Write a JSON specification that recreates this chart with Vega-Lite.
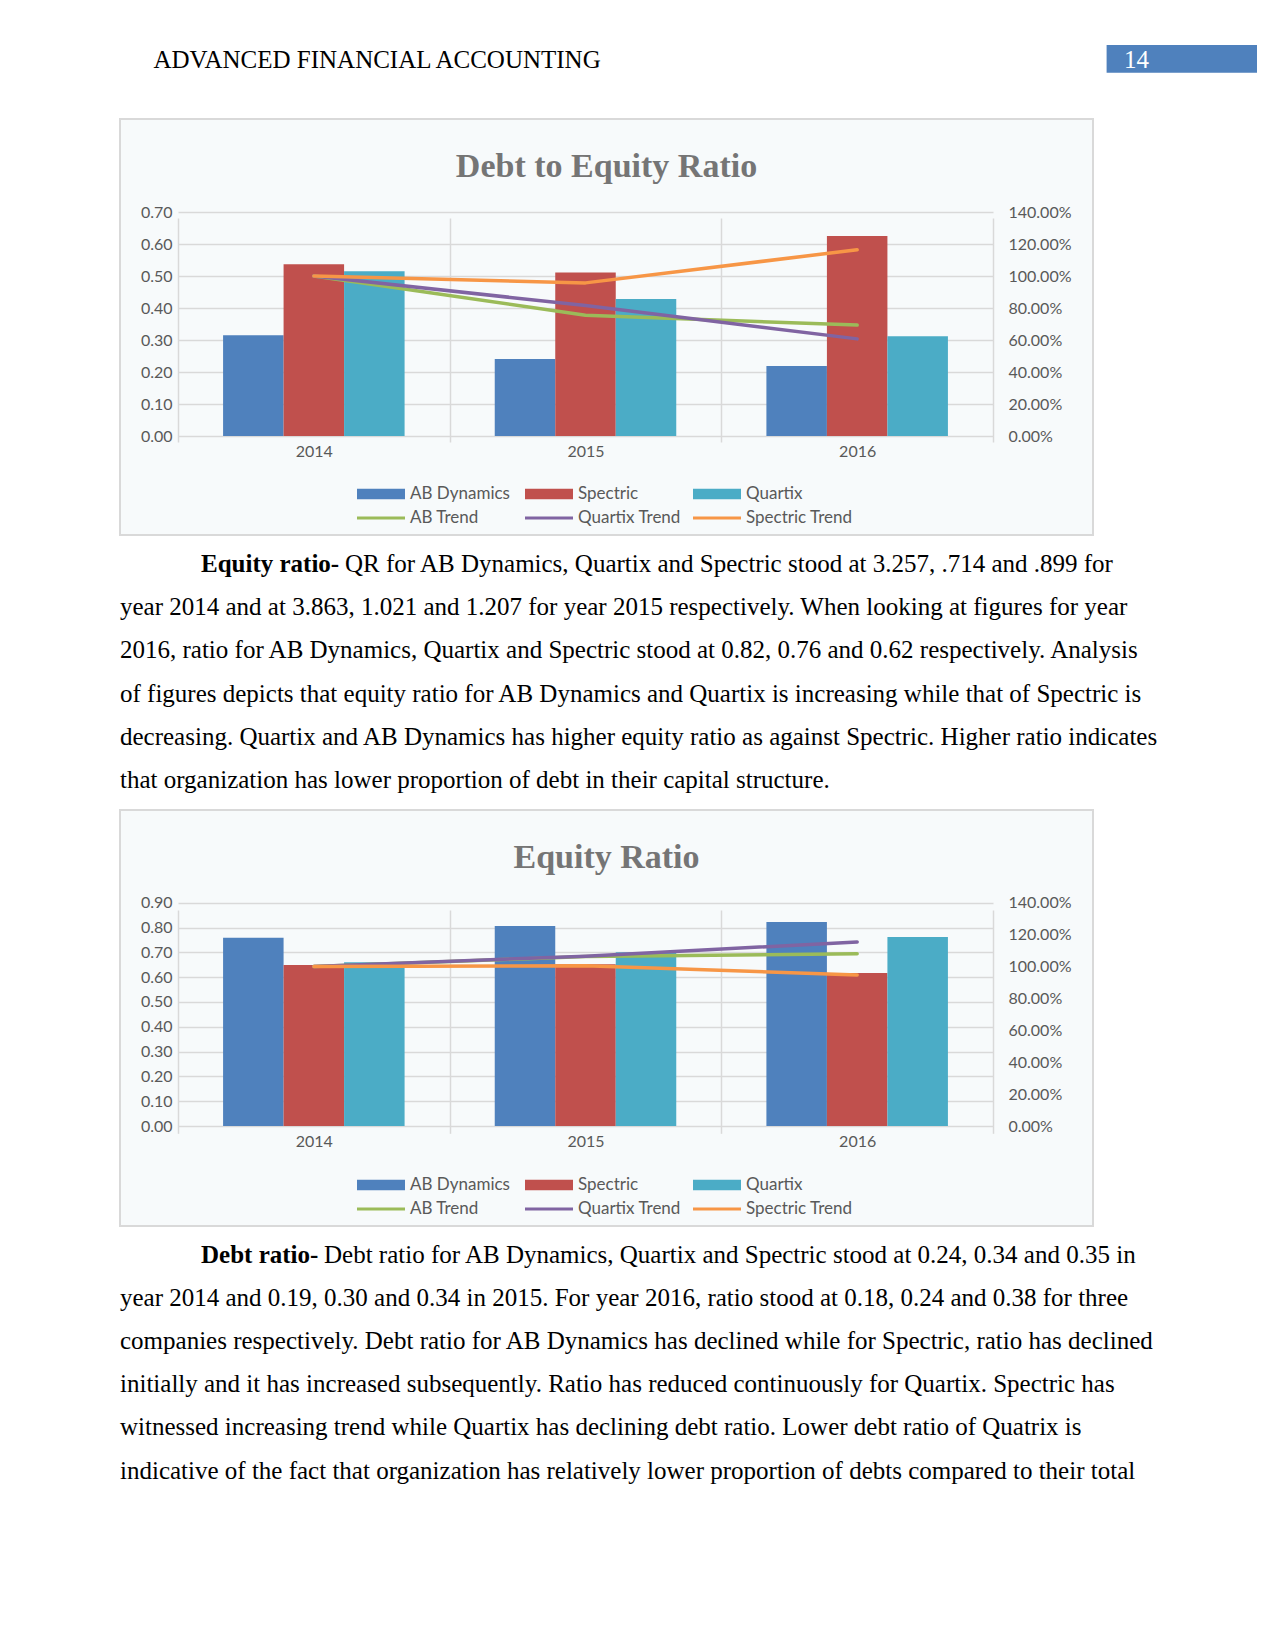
{
  "$schema": "https://vega.github.io/schema/vega-lite/v6.json",
  "padding": {"left": 119, "top": 0, "right": 0, "bottom": 0},
  "background": "white",
  "spacing": 0,
  "bounds": "flush",
  "resolve": {"scale": {"color": "independent"}, "legend": {"color": "independent"}},
  "config": {
    "view": {"stroke": null},
    "font": "Lato",
    "axis": {"labelFont": "Lato", "labelFontSize": 16, "labelColor": "#595959", "ticks": false, "tickSize": 0, "domain": false, "title": null, "gridColor": "#d9d9d9", "gridWidth": 1.5}
  },
  "datasets": {
    "bars1": [
      {"year": "2014", "series": "AB Dynamics", "value": 0.315},
      {"year": "2014", "series": "Spectric", "value": 0.537},
      {"year": "2014", "series": "Quartix", "value": 0.515},
      {"year": "2015", "series": "AB Dynamics", "value": 0.241},
      {"year": "2015", "series": "Spectric", "value": 0.511},
      {"year": "2015", "series": "Quartix", "value": 0.428},
      {"year": "2016", "series": "AB Dynamics", "value": 0.219},
      {"year": "2016", "series": "Spectric", "value": 0.625},
      {"year": "2016", "series": "Quartix", "value": 0.312}
    ],
    "trend1": [
      {"year": "2014", "series": "AB Trend", "trend": 1.0},
      {"year": "2015", "series": "AB Trend", "trend": 0.755},
      {"year": "2016", "series": "AB Trend", "trend": 0.693},
      {"year": "2014", "series": "Quartix Trend", "trend": 1.0},
      {"year": "2015", "series": "Quartix Trend", "trend": 0.815},
      {"year": "2016", "series": "Quartix Trend", "trend": 0.607},
      {"year": "2014", "series": "Spectric Trend", "trend": 1.0},
      {"year": "2015", "series": "Spectric Trend", "trend": 0.957},
      {"year": "2016", "series": "Spectric Trend", "trend": 1.164}
    ],
    "bars2": [
      {"year": "2014", "series": "AB Dynamics", "value": 0.759},
      {"year": "2014", "series": "Spectric", "value": 0.649},
      {"year": "2014", "series": "Quartix", "value": 0.66},
      {"year": "2015", "series": "AB Dynamics", "value": 0.806},
      {"year": "2015", "series": "Spectric", "value": 0.652},
      {"year": "2015", "series": "Quartix", "value": 0.7},
      {"year": "2016", "series": "AB Dynamics", "value": 0.822},
      {"year": "2016", "series": "Spectric", "value": 0.617},
      {"year": "2016", "series": "Quartix", "value": 0.762}
    ],
    "trend2": [
      {"year": "2014", "series": "AB Trend", "trend": 1.0},
      {"year": "2015", "series": "AB Trend", "trend": 1.062},
      {"year": "2016", "series": "AB Trend", "trend": 1.08},
      {"year": "2014", "series": "Quartix Trend", "trend": 1.0},
      {"year": "2015", "series": "Quartix Trend", "trend": 1.065},
      {"year": "2016", "series": "Quartix Trend", "trend": 1.154},
      {"year": "2014", "series": "Spectric Trend", "trend": 1.0},
      {"year": "2015", "series": "Spectric Trend", "trend": 1.005},
      {"year": "2016", "series": "Spectric Trend", "trend": 0.947}
    ],
    "text1": [
      {"line": 1, "part": "head", "text": "Equity ratio-"},
      {"line": 1, "part": "lead", "text": "QR for AB Dynamics, Quartix and Spectric stood at 3.257, .714 and .899 for"},
      {"line": 2, "part": "body", "text": "year 2014 and at 3.863, 1.021 and 1.207 for year 2015 respectively. When looking at figures for year"},
      {"line": 3, "part": "body", "text": "2016, ratio for AB Dynamics, Quartix and Spectric stood at 0.82, 0.76 and 0.62 respectively. Analysis"},
      {"line": 4, "part": "body", "text": "of figures depicts that equity ratio for AB Dynamics and Quartix is increasing while that of Spectric is"},
      {"line": 5, "part": "body", "text": "decreasing. Quartix and AB Dynamics has higher equity ratio as against Spectric. Higher ratio indicates"},
      {"line": 6, "part": "body", "text": "that organization has lower proportion of debt in their capital structure."}
    ],
    "text2": [
      {"line": 1, "part": "head", "text": "Debt ratio-"},
      {"line": 1, "part": "lead", "text": "Debt ratio for AB Dynamics, Quartix and Spectric stood at 0.24, 0.34 and 0.35 in"},
      {"line": 2, "part": "body", "text": "year 2014 and 0.19, 0.30 and 0.34 in 2015. For year 2016, ratio stood at 0.18, 0.24 and 0.38 for three"},
      {"line": 3, "part": "body", "text": "companies respectively. Debt ratio for AB Dynamics has declined while for Spectric, ratio has declined"},
      {"line": 4, "part": "body", "text": "initially and it has increased subsequently. Ratio has reduced continuously for Quartix. Spectric has"},
      {"line": 5, "part": "body", "text": "witnessed increasing trend while Quartix has declining debt ratio. Lower debt ratio of Quatrix is"},
      {"line": 6, "part": "body", "text": "indicative of the fact that organization has relatively lower proportion of debts compared to their total"}
    ]
  },
  "vconcat": [
    {
      "width": 1156, "height": 119,
      "data": {"values": [{"item": "header", "text": "ADVANCED FINANCIAL ACCOUNTING"}, {"item": "page", "text": "14"}]},
      "layer": [
        {
          "transform": [{"filter": "datum.item === 'page'"}],
          "mark": {"type": "rect", "color": "#4f81bd"},
          "encoding": {
            "x": {"field": "item", "type": "nominal", "scale": {"type": "band", "domain": ["page"], "range": [986.6, 1137], "paddingInner": 0, "paddingOuter": 0}, "axis": null},
            "y": {"field": "item", "type": "nominal", "scale": {"type": "band", "domain": ["page"], "range": [45, 72.7], "paddingInner": 0, "paddingOuter": 0}, "axis": null}
          }
        },
        {
          "mark": {"type": "text", "align": "left", "baseline": "alphabetic", "font": "Liberation Serif", "fontSize": 25},
          "encoding": {
            "x": {"field": "item", "type": "nominal", "scale": {"type": "point", "domain": ["header", "page"], "range": [33.5, 1004], "padding": 0}, "axis": null},
            "y": {"field": "item", "type": "nominal", "scale": {"type": "point", "domain": ["header", "page"], "range": [67.7, 67.7], "padding": 0}, "axis": null},
            "text": {"field": "text"},
            "color": {"condition": {"test": "datum.item === 'page'", "value": "#ffffff"}, "value": "#000000"}
          }
        }
      ],
      "resolve": {"scale": {"x": "independent", "y": "independent"}}
    },
    {
      "width": 973, "height": 416,
      "view": {"fill": "#f7fafb", "stroke": "#d9d9d9", "strokeWidth": 2},
      "title": {"text": "Debt to Equity Ratio", "anchor": "middle", "frame": "group", "offset": -91.5, "font": "Liberation Serif", "fontSize": 34, "fontWeight": "bold", "color": "#757575", "baseline": "alphabetic"},
      "encoding": {
        "x": {"field": "year", "type": "nominal", "scale": {"type": "band", "range": [58, 873], "paddingInner": 0, "paddingOuter": 0}, "axis": {"orient": "bottom", "offset": -99, "grid": true, "tickBand": "extent", "labelPadding": 20, "labelBaseline": "alphabetic", "labelAngle": 0}},
        "color": {
          "field": "series", "type": "nominal",
          "scale": {"domain": ["AB Dynamics", "Spectric", "Quartix", "AB Trend", "Quartix Trend", "Spectric Trend"], "range": ["#4f81bd", "#c0504d", "#4bacc6", "#9bbb59", "#8064a2", "#f79646"]},
          "legend": {
            "orient": "none", "legendX": 237, "legendY": 363, "direction": "horizontal", "columns": 3, "title": null,
            "symbolType": "M-1,-0.44H3V0.44H-1Z", "symbolSize": 576, "symbolStrokeWidth": 0,
            "labelFont": "Lato", "labelFontSize": 17, "labelColor": "#595959", "labelOffset": 29,
            "columnPadding": 8, "rowPadding": 4, "gridAlign": "all", "padding": 0,
            "encode": {"symbols": {"update": {
              "shape": {"signal": "indexof(datum.value, 'Trend') >= 0 ? 'M-1,-0.13H3V0.13H-1Z' : 'M-1,-0.44H3V0.44H-1Z'"},
              "fill": {"signal": "datum.value === 'AB Dynamics' ? '#4f81bd' : datum.value === 'Spectric' ? '#c0504d' : datum.value === 'Quartix' ? '#4bacc6' : datum.value === 'AB Trend' ? '#9bbb59' : datum.value === 'Quartix Trend' ? '#8064a2' : '#f79646'"},
              "stroke": {"value": "transparent"},
              "opacity": {"value": 1}
            }}}
          }
        }
      },
      "layer": [
        {
          "data": {"name": "bars1"},
          "mark": {"type": "bar"},
          "encoding": {
            "xOffset": {"field": "series", "type": "nominal", "scale": {"domain": ["AB Dynamics", "Spectric", "Quartix"], "paddingInner": 0, "paddingOuter": 0.745}},
            "y": {"field": "value", "type": "quantitative", "scale": {"domain": [0, 0.7], "range": [317, 93], "nice": false}, "axis": {"orient": "left", "offset": -58, "values": [0, 0.1, 0.2, 0.3, 0.4, 0.5, 0.6, 0.7], "format": ".2f", "grid": true, "labelPadding": 6}}
          }
        },
        {
          "data": {"name": "trend1"},
          "mark": {"type": "line", "interpolate": "linear", "strokeWidth": 3.5, "strokeCap": "round", "strokeJoin": "round"},
          "encoding": {
            "y": {"field": "trend", "type": "quantitative", "scale": {"domain": [0, 1.4], "range": [317, 93], "nice": false}, "axis": {"orient": "right", "offset": -100, "values": [0, 0.2, 0.4, 0.6, 0.8, 1.0, 1.2, 1.4], "format": ".2%", "grid": false, "labelPadding": 15}}
          }
        }
      ],
      "resolve": {"scale": {"y": "independent"}, "axis": {"y": "independent"}}
    },
    {
      "width": 1156, "height": 275,
      "data": {"name": "text1"},
      "encoding": {
        "x": {"field": "part", "type": "nominal", "scale": {"type": "point", "domain": ["body", "head"], "range": [0, 81], "padding": 0}, "axis": null},
        "y": {"field": "line", "type": "ordinal", "scale": {"type": "point", "range": [36.7, 253.3], "padding": 0}, "axis": null},
        "text": {"field": "text"}
      },
      "layer": [
        {"transform": [{"filter": "datum.part === 'head'"}], "mark": {"type": "text", "align": "left", "baseline": "alphabetic", "font": "Liberation Serif", "fontSize": 25, "fontWeight": "bold", "color": "#000000"}},
        {"transform": [{"filter": "datum.part === 'lead'"}], "mark": {"type": "text", "align": "left", "baseline": "alphabetic", "font": "Liberation Serif", "fontSize": 25, "color": "#000000", "dx": 144}, "encoding": {"x": {"datum": "head", "type": "nominal"}}},
        {"transform": [{"filter": "datum.part === 'body'"}], "mark": {"type": "text", "align": "left", "baseline": "alphabetic", "font": "Liberation Serif", "fontSize": 25, "color": "#000000"}}
      ]
    },
    {
      "width": 973, "height": 416,
      "view": {"fill": "#f7fafb", "stroke": "#d9d9d9", "strokeWidth": 2},
      "title": {"text": "Equity Ratio", "anchor": "middle", "frame": "group", "offset": -91.5, "font": "Liberation Serif", "fontSize": 34, "fontWeight": "bold", "color": "#757575", "baseline": "alphabetic"},
      "encoding": {
        "x": {"field": "year", "type": "nominal", "scale": {"type": "band", "range": [58, 873], "paddingInner": 0, "paddingOuter": 0}, "axis": {"orient": "bottom", "offset": -100, "grid": true, "tickBand": "extent", "labelPadding": 20, "labelBaseline": "alphabetic", "labelAngle": 0}},
        "color": {
          "field": "series", "type": "nominal",
          "scale": {"domain": ["AB Dynamics", "Spectric", "Quartix", "AB Trend", "Quartix Trend", "Spectric Trend"], "range": ["#4f81bd", "#c0504d", "#4bacc6", "#9bbb59", "#8064a2", "#f79646"]},
          "legend": {
            "orient": "none", "legendX": 237, "legendY": 363, "direction": "horizontal", "columns": 3, "title": null,
            "symbolType": "M-1,-0.44H3V0.44H-1Z", "symbolSize": 576, "symbolStrokeWidth": 0,
            "labelFont": "Lato", "labelFontSize": 17, "labelColor": "#595959", "labelOffset": 29,
            "columnPadding": 8, "rowPadding": 4, "gridAlign": "all", "padding": 0,
            "encode": {"symbols": {"update": {
              "shape": {"signal": "indexof(datum.value, 'Trend') >= 0 ? 'M-1,-0.13H3V0.13H-1Z' : 'M-1,-0.44H3V0.44H-1Z'"},
              "fill": {"signal": "datum.value === 'AB Dynamics' ? '#4f81bd' : datum.value === 'Spectric' ? '#c0504d' : datum.value === 'Quartix' ? '#4bacc6' : datum.value === 'AB Trend' ? '#9bbb59' : datum.value === 'Quartix Trend' ? '#8064a2' : '#f79646'"},
              "stroke": {"value": "transparent"},
              "opacity": {"value": 1}
            }}}
          }
        }
      },
      "layer": [
        {
          "data": {"name": "bars2"},
          "mark": {"type": "bar"},
          "encoding": {
            "xOffset": {"field": "series", "type": "nominal", "scale": {"domain": ["AB Dynamics", "Spectric", "Quartix"], "paddingInner": 0, "paddingOuter": 0.745}},
            "y": {"field": "value", "type": "quantitative", "scale": {"domain": [0, 0.9], "range": [316, 92.7], "nice": false}, "axis": {"orient": "left", "offset": -58, "values": [0, 0.1, 0.2, 0.3, 0.4, 0.5, 0.6, 0.7, 0.8, 0.9], "format": ".2f", "grid": true, "labelPadding": 6}}
          }
        },
        {
          "data": {"name": "trend2"},
          "mark": {"type": "line", "interpolate": "linear", "strokeWidth": 3.5, "strokeCap": "round", "strokeJoin": "round"},
          "encoding": {
            "y": {"field": "trend", "type": "quantitative", "scale": {"domain": [0, 1.4], "range": [316, 92.7], "nice": false}, "axis": {"orient": "right", "offset": -100, "values": [0, 0.2, 0.4, 0.6, 0.8, 1.0, 1.2, 1.4], "format": ".2%", "grid": false, "labelPadding": 15}}
          }
        }
      ],
      "resolve": {"scale": {"y": "independent"}, "axis": {"y": "independent"}}
    },
    {
      "width": 1156, "height": 424,
      "data": {"name": "text2"},
      "encoding": {
        "x": {"field": "part", "type": "nominal", "scale": {"type": "point", "domain": ["body", "head"], "range": [0, 81], "padding": 0}, "axis": null},
        "y": {"field": "line", "type": "ordinal", "scale": {"type": "point", "range": [36.7, 252.5], "padding": 0}, "axis": null},
        "text": {"field": "text"}
      },
      "layer": [
        {"transform": [{"filter": "datum.part === 'head'"}], "mark": {"type": "text", "align": "left", "baseline": "alphabetic", "font": "Liberation Serif", "fontSize": 25, "fontWeight": "bold", "color": "#000000"}},
        {"transform": [{"filter": "datum.part === 'lead'"}], "mark": {"type": "text", "align": "left", "baseline": "alphabetic", "font": "Liberation Serif", "fontSize": 25, "color": "#000000", "dx": 123}, "encoding": {"x": {"datum": "head", "type": "nominal"}}},
        {"transform": [{"filter": "datum.part === 'body'"}], "mark": {"type": "text", "align": "left", "baseline": "alphabetic", "font": "Liberation Serif", "fontSize": 25, "color": "#000000"}}
      ]
    }
  ]
}
